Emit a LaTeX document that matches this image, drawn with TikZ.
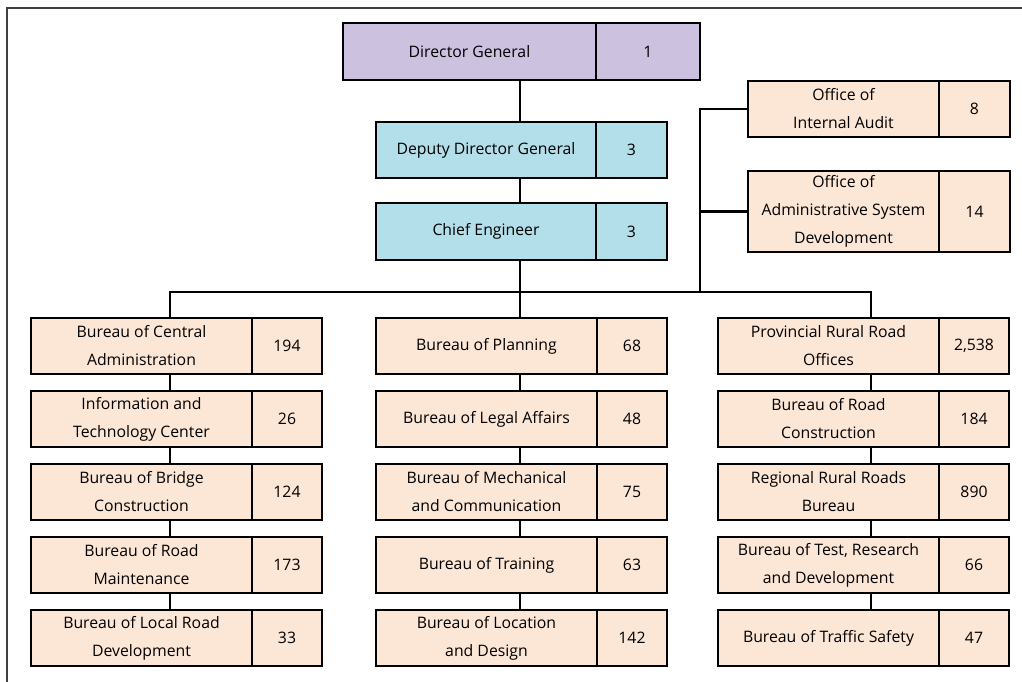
\documentclass[tikz,border=0pt]{standalone}
\usepackage{fontspec}
\setmainfont{Open Sans}
\usetikzlibrary{positioning}
\definecolor{dgfill}{HTML}{CDC1E0}
\definecolor{depfill}{HTML}{B3DFEA}
\definecolor{unitfill}{HTML}{FCE6D6}
\tikzset{
  namebox/.style={draw, line width=2.3pt, fill=unitfill, align=center, inner sep=0pt, outer sep=0pt, minimum width=221pt, minimum height=56pt},
  numbox/.style={draw, line width=2.3pt, fill=unitfill, inner sep=0pt, outer sep=0pt, minimum width=70pt, minimum height=56pt},
  link/.style={line width=2.2pt}
}
\begin{document}
\begin{tikzpicture}[x=1pt, y=-1pt, font=\fontsize{15.8}{28}\selectfont]
\useasboundingbox (0,0) rectangle (1022,682);
\draw[line width=1.2pt, black!75] (7,682) -- (7,8) -- (1022,8);
% top of the chart
\node[namebox, fill=dgfill, minimum width=253pt, minimum height=57pt, anchor=north west] (dg) at (343,23) {Director General};
\node[numbox, fill=dgfill, minimum width=104pt, minimum height=57pt, right=0pt of dg] (dgN) {1};
\node[namebox, fill=depfill, minimum width=220pt, anchor=north west] (deputy) at (376,122) {Deputy Director General};
\node[numbox, fill=depfill, minimum width=71pt, right=0pt of deputy] (deputyN) {3};
\node[namebox, fill=depfill, minimum width=220pt, minimum height=57pt, anchor=north west] (chief) at (376,203) {Chief Engineer};
\node[numbox, fill=depfill, minimum width=71pt, minimum height=57pt, right=0pt of chief] (chiefN) {3};
\node[namebox, minimum width=191pt, anchor=north west] (audit) at (748,81) {Office of\\Internal Audit};
\node[numbox, minimum width=71pt, right=0pt of audit] (auditN) {8};
\node[namebox, minimum width=191pt, minimum height=81pt, anchor=north west] (admsys) at (748,171) {Office of\\Administrative System\\Development};
\node[numbox, minimum width=71pt, minimum height=81pt, right=0pt of admsys] (admsysN) {14};
% left column
\node[namebox, anchor=north west] (central) at (31,318) {Bureau of Central\\Administration};
\node[numbox, right=0pt of central] (centralN) {194};
\node[namebox, below=17pt of central] (infotech) {Information and\\Technology Center};
\node[numbox, right=0pt of infotech] (infotechN) {26};
\node[namebox, below=17pt of infotech] (bridge) {Bureau of Bridge\\Construction};
\node[numbox, right=0pt of bridge] (bridgeN) {124};
\node[namebox, below=17pt of bridge] (maint) {Bureau of Road\\Maintenance};
\node[numbox, right=0pt of maint] (maintN) {173};
\node[namebox, below=17pt of maint] (localroad) {Bureau of Local Road\\Development};
\node[numbox, right=0pt of localroad] (localroadN) {33};
% middle column
\node[namebox, anchor=north west] (planning) at (376,318) {Bureau of Planning};
\node[numbox, right=0pt of planning] (planningN) {68};
\node[namebox, below=17pt of planning] (legal) {Bureau of Legal Affairs};
\node[numbox, right=0pt of legal] (legalN) {48};
\node[namebox, below=17pt of legal] (mech) {Bureau of Mechanical\\and Communication};
\node[numbox, right=0pt of mech] (mechN) {75};
\node[namebox, below=17pt of mech] (training) {Bureau of Training};
\node[numbox, right=0pt of training] (trainingN) {63};
\node[namebox, below=17pt of training] (location) {Bureau of Location\\and Design};
\node[numbox, right=0pt of location] (locationN) {142};
% right column
\node[namebox, anchor=north west] (provincial) at (718,318) {Provincial Rural Road\\Offices};
\node[numbox, right=0pt of provincial] (provincialN) {2,538};
\node[namebox, below=17pt of provincial] (roadcons) {Bureau of Road\\Construction};
\node[numbox, right=0pt of roadcons] (roadconsN) {184};
\node[namebox, below=17pt of roadcons] (regional) {Regional Rural Roads\\Bureau};
\node[numbox, right=0pt of regional] (regionalN) {890};
\node[namebox, below=17pt of regional] (research) {Bureau of Test, Research\\and Development};
\node[numbox, right=0pt of research] (researchN) {66};
\node[namebox, below=17pt of research] (safety) {Bureau of Traffic Safety};
\node[numbox, right=0pt of safety] (safetyN) {47};
% connectors
\coordinate (bus1) at (170,292);
\coordinate (bus2) at (520,292);
\coordinate (bus3) at (871,292);
\coordinate (branch) at (700,292);
\draw[link] (dg.south -| bus2) -- (deputy.north -| bus2);
\draw[link] (deputy.south -| bus2) -- (chief.north -| bus2);
\draw[link] (chief.south -| bus2) -- (bus2);
\draw[link] (central.north -| bus1) -- (bus1) -- (bus3) -- (provincial.north -| bus3);
\draw[link] (bus2) -- (planning.north -| bus2);
\draw[link] (audit.west) -| (branch);
\draw[link] (admsys.west) -- (admsys.west -| branch);
\draw[link] (central.south -| bus1) -- (infotech.north -| bus1);
\draw[link] (infotech.south -| bus1) -- (bridge.north -| bus1);
\draw[link] (bridge.south -| bus1) -- (maint.north -| bus1);
\draw[link] (maint.south -| bus1) -- (localroad.north -| bus1);
\draw[link] (planning.south -| bus2) -- (legal.north -| bus2);
\draw[link] (legal.south -| bus2) -- (mech.north -| bus2);
\draw[link] (mech.south -| bus2) -- (training.north -| bus2);
\draw[link] (training.south -| bus2) -- (location.north -| bus2);
\draw[link] (provincial.south -| bus3) -- (roadcons.north -| bus3);
\draw[link] (roadcons.south -| bus3) -- (regional.north -| bus3);
\draw[link] (regional.south -| bus3) -- (research.north -| bus3);
\draw[link] (research.south -| bus3) -- (safety.north -| bus3);
\end{tikzpicture}
\end{document}
